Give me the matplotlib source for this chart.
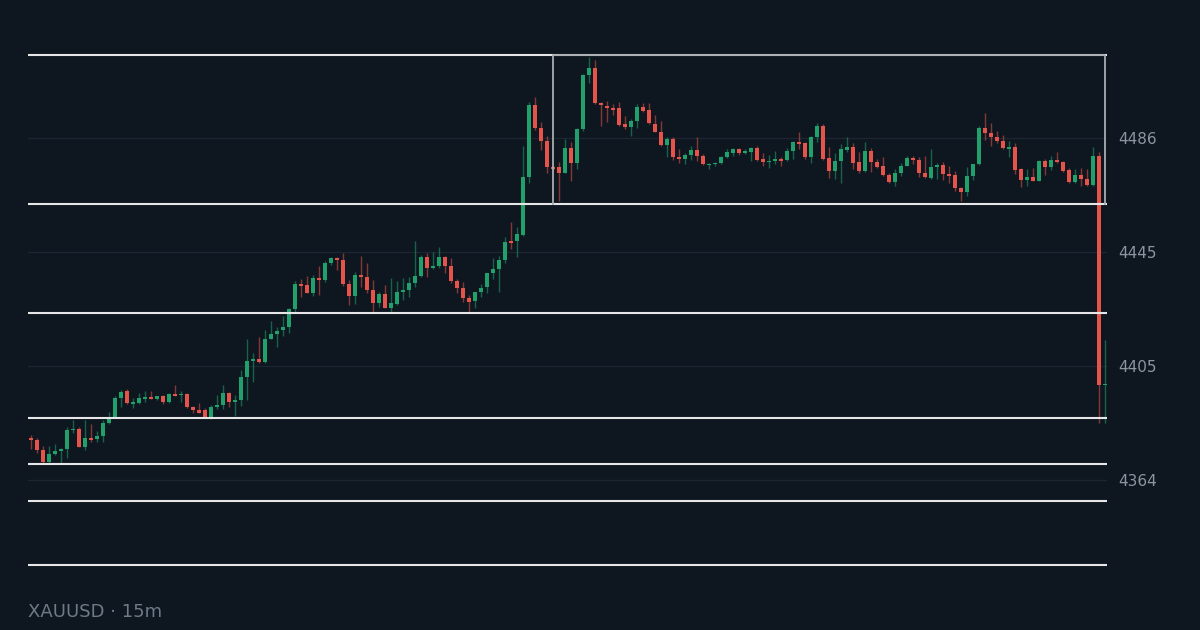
import matplotlib
matplotlib.use("Agg")
import matplotlib.pyplot as plt
import numpy as np

opens = [4379.1, 4378.3, 4374.7, 4370.4, 4373.2, 4374.4, 4375.1, 4381.7, 4382.3, 4375.9,
         4379.1, 4378.6, 4379.8, 4384.2, 4386.2, 4393.1, 4395.6, 4391.2, 4391.5, 4393.0,
         4393.5, 4392.9, 4393.8, 4391.8, 4394.7, 4394.2, 4394.7, 4390.1, 4389.0, 4389.0,
         4386.3, 4390.1, 4390.8, 4395.0, 4391.8, 4392.5, 4400.7, 4406.5, 4407.2, 4406.1,
         4414.4, 4416.2, 4417.4, 4418.7, 4425.0, 4433.8, 4433.5, 4430.7, 4435.9, 4435.3,
         4441.5, 4443.2, 4442.4, 4433.9, 4429.7, 4437.1, 4436.3, 4431.8, 4427.0, 4430.3,
         4425.2, 4426.9, 4431.0, 4431.8, 4434.2, 4436.8, 4443.6, 4439.5, 4440.4, 4443.6,
         4440.4, 4435.0, 4432.5, 4429.0, 4427.7, 4431.2, 4432.7, 4437.7, 4439.3, 4442.5,
         4449.2, 4449.4, 4451.4, 4472.0, 4497.8, 4489.7, 4484.9, 4475.5, 4475.5, 4473.6,
         4482.5, 4477.0, 4489.2, 4508.5, 4510.9, 4498.4, 4497.4, 4496.8, 4496.6, 4491.0,
         4490.0, 4492.1, 4497.2, 4496.0, 4491.0, 4488.2, 4483.5, 4485.6, 4479.3, 4478.5,
         4479.9, 4481.8, 4479.6, 4476.3, 4476.6, 4477.2, 4479.1, 4480.7, 4482.0, 4480.5,
         4480.9, 4482.5, 4478.4, 4477.5, 4477.9, 4478.5, 4478.1, 4481.5, 4484.5, 4484.1,
         4479.3, 4486.2, 4490.3, 4478.8, 4474.3, 4477.8, 4481.7, 4482.9, 4477.3, 4474.2,
         4481.4, 4477.5, 4475.9, 4472.7, 4470.2, 4473.4, 4476.1, 4478.9, 4478.1, 4473.4,
         4471.6, 4475.8, 4476.4, 4473.2, 4472.8, 4468.0, 4466.8, 4472.4, 4476.6, 4489.5,
         4487.9, 4486.5, 4485.0, 4482.1, 4482.7, 4474.8, 4471.0, 4472.0, 4470.7, 4477.9,
         4475.8, 4478.1, 4477.5, 4474.6, 4470.4, 4472.8, 4471.3, 4469.2, 4479.6, 4397.7]
highs = [4379.9, 4379.0, 4376.0, 4376.0, 4376.8, 4375.4, 4383.0, 4385.4, 4383.0, 4385.4,
         4384.0, 4381.6, 4385.4, 4388.2, 4393.9, 4396.1, 4396.4, 4393.3, 4395.1, 4395.8,
         4395.7, 4393.9, 4394.3, 4395.0, 4397.9, 4395.8, 4395.0, 4390.4, 4391.5, 4389.7,
         4390.7, 4394.2, 4397.9, 4395.4, 4394.3, 4403.2, 4414.3, 4409.2, 4415.1, 4417.5,
         4420.7, 4418.5, 4422.5, 4425.4, 4435.0, 4435.6, 4436.8, 4437.1, 4440.4, 4442.1,
         4443.6, 4443.5, 4445.0, 4435.3, 4438.1, 4443.9, 4441.3, 4435.3, 4431.2, 4433.5,
         4436.2, 4435.1, 4435.9, 4436.5, 4449.4, 4444.2, 4444.9, 4445.3, 4447.1, 4443.9,
         4443.1, 4435.6, 4434.6, 4429.9, 4431.2, 4433.8, 4437.9, 4443.1, 4443.9, 4450.6,
         4456.1, 4454.3, 4483.1, 4498.7, 4500.7, 4491.7, 4486.7, 4476.4, 4477.4, 4485.6,
         4484.5, 4489.6, 4508.8, 4515.0, 4513.8, 4498.9, 4499.2, 4498.1, 4498.7, 4494.0,
         4492.7, 4498.1, 4498.4, 4498.4, 4494.2, 4492.2, 4486.2, 4486.2, 4482.1, 4480.8,
         4483.1, 4486.2, 4480.3, 4477.2, 4477.4, 4479.6, 4482.0, 4482.3, 4482.3, 4482.0,
         4482.9, 4483.1, 4480.5, 4479.9, 4481.5, 4479.1, 4482.3, 4484.9, 4488.0, 4484.7,
         4486.7, 4491.2, 4491.0, 4482.9, 4480.5, 4483.9, 4486.2, 4484.1, 4481.1, 4484.7,
         4482.3, 4478.4, 4479.1, 4473.4, 4474.8, 4477.0, 4479.6, 4479.6, 4479.1, 4479.6,
         4482.1, 4477.0, 4477.5, 4476.0, 4474.2, 4468.5, 4475.8, 4476.7, 4490.3, 4495.0,
         4491.5, 4488.5, 4487.1, 4485.0, 4484.1, 4475.3, 4474.8, 4475.2, 4478.1, 4478.4,
         4479.6, 4481.1, 4477.9, 4475.2, 4474.8, 4475.4, 4474.8, 4482.9, 4481.1, 4413.9]
lows = [4375.0, 4373.7, 4370.0, 4370.0, 4372.9, 4369.7, 4371.7, 4380.6, 4375.9, 4374.7,
        4377.6, 4377.6, 4377.6, 4383.8, 4386.1, 4389.9, 4391.0, 4389.8, 4391.0, 4391.9,
        4392.9, 4392.5, 4391.2, 4391.4, 4393.9, 4391.8, 4389.7, 4388.0, 4387.9, 4386.1,
        4385.9, 4389.3, 4389.3, 4390.1, 4386.8, 4390.4, 4392.5, 4399.0, 4405.8, 4405.8,
        4414.2, 4411.5, 4415.4, 4416.5, 4423.8, 4429.2, 4430.7, 4429.7, 4430.1, 4434.7,
        4440.8, 4438.9, 4433.2, 4426.5, 4426.8, 4432.9, 4430.8, 4423.7, 4425.8, 4425.2,
        4423.7, 4426.4, 4428.2, 4429.4, 4432.9, 4436.3, 4436.5, 4439.3, 4439.7, 4437.7,
        4434.4, 4430.8, 4427.6, 4424.0, 4425.2, 4429.4, 4430.6, 4435.6, 4431.2, 4441.3,
        4446.3, 4443.6, 4451.2, 4470.0, 4488.9, 4481.7, 4473.4, 4474.6, 4463.6, 4473.5,
        4470.8, 4474.8, 4488.6, 4505.7, 4498.1, 4490.4, 4491.8, 4494.1, 4490.3, 4489.1,
        4486.7, 4489.5, 4495.3, 4491.0, 4488.1, 4483.3, 4479.1, 4478.1, 4477.2, 4476.7,
        4478.1, 4477.9, 4476.4, 4475.0, 4476.0, 4476.7, 4478.9, 4479.6, 4479.9, 4480.3,
        4477.8, 4477.8, 4476.0, 4475.2, 4476.7, 4476.0, 4477.9, 4478.5, 4482.1, 4478.5,
        4477.2, 4484.7, 4478.1, 4471.8, 4471.4, 4470.0, 4480.9, 4474.9, 4473.6, 4473.9,
        4474.0, 4475.4, 4472.4, 4469.9, 4469.0, 4472.4, 4476.0, 4476.7, 4472.0, 4471.6,
        4471.3, 4471.4, 4471.0, 4469.8, 4467.1, 4463.5, 4465.4, 4471.0, 4476.4, 4485.3,
        4483.1, 4484.1, 4482.1, 4479.1, 4473.1, 4468.6, 4468.9, 4470.5, 4470.5, 4472.8,
        4474.6, 4477.2, 4473.8, 4470.0, 4469.8, 4468.9, 4468.9, 4469.0, 4384.2, 4384.4]
closes = [4378.3, 4374.7, 4370.4, 4373.2, 4374.3, 4375.1, 4381.8, 4382.3, 4375.9, 4378.8,
          4378.1, 4379.8, 4384.4, 4386.0, 4393.1, 4395.4, 4391.3, 4391.9, 4393.1, 4393.5,
          4393.0, 4393.8, 4391.7, 4394.7, 4394.0, 4394.7, 4389.9, 4389.0, 4388.0, 4386.3,
          4390.1, 4390.8, 4395.0, 4391.7, 4392.5, 4400.6, 4406.4, 4407.2, 4406.2, 4414.3,
          4416.1, 4417.2, 4418.6, 4425.0, 4433.8, 4433.2, 4430.7, 4435.9, 4435.3, 4441.5,
          4443.2, 4442.5, 4433.9, 4429.7, 4437.1, 4436.3, 4431.8, 4427.0, 4430.2, 4425.2,
          4427.0, 4431.0, 4431.8, 4434.2, 4436.8, 4443.6, 4439.5, 4440.4, 4443.6, 4440.4,
          4435.0, 4432.5, 4429.0, 4427.6, 4431.2, 4432.5, 4437.7, 4439.3, 4442.5, 4449.0,
          4448.6, 4451.6, 4472.0, 4497.8, 4489.7, 4484.9, 4475.5, 4475.0, 4473.6, 4482.5,
          4477.0, 4489.2, 4508.5, 4510.9, 4498.4, 4497.7, 4496.8, 4496.0, 4490.6, 4490.0,
          4492.1, 4497.2, 4495.7, 4491.2, 4488.2, 4483.5, 4485.6, 4479.1, 4478.6, 4479.9,
          4481.8, 4479.6, 4476.6, 4476.8, 4477.2, 4479.1, 4480.9, 4482.0, 4480.5, 4481.4,
          4482.5, 4478.1, 4477.5, 4477.9, 4478.5, 4477.9, 4481.5, 4484.5, 4483.9, 4479.1,
          4486.2, 4490.3, 4478.5, 4474.3, 4477.8, 4482.0, 4482.9, 4477.2, 4474.3, 4481.4,
          4477.4, 4475.8, 4472.7, 4470.2, 4473.4, 4476.0, 4478.9, 4478.1, 4473.4, 4472.0,
          4475.5, 4476.4, 4473.0, 4472.4, 4468.0, 4466.8, 4472.4, 4476.6, 4489.5, 4487.9,
          4486.5, 4484.9, 4482.3, 4482.7, 4474.6, 4471.0, 4472.0, 4470.7, 4477.9, 4475.8,
          4478.1, 4477.4, 4474.3, 4470.4, 4472.8, 4471.3, 4469.2, 4479.6, 4397.9, 4397.9]

levels = [4515.6, 4462.3, 4423.6, 4386.0, 4369.6, 4356.4, 4333.6]
box_start, box_end = 87, 179
box_low, box_high = 4462.3, 4515.6
tick_vals = [4364.0, 4404.67, 4445.33, 4486.0]
tick_labels = ["4364", "4405", "4445", "4486"]
title = "XAUUSD · 15m"

BG = "#0e1720"
UP = "#22a06b"
DOWN = "#e5534b"

o = np.array(opens)
h = np.array(highs)
l = np.array(lows)
c = np.array(closes)
x = np.arange(len(o))
up = c >= o

fig = plt.figure(figsize=(12, 6.3), dpi=100, facecolor=BG)
ax = fig.add_axes([28 / 1200, 0, (1107 - 28) / 1200, 1])
ax.set_facecolor(BG)

# grid
for t in tick_vals:
    ax.axhline(t, color="#1c2630", lw=1, zorder=0)

# wicks
colors = np.where(up, UP, DOWN)
ax.vlines(x, l, h, colors=colors, lw=1, alpha=0.55, zorder=2)

# bodies
bottom = np.minimum(o, c)
height = np.maximum(np.abs(c - o), 0.4)
ax.bar(x, height, bottom=bottom, width=0.66, color=colors, linewidth=0, zorder=3)

# levels
for lv in levels:
    ax.axhline(lv, color="#e6e6e6", lw=1.5, zorder=4)

# box
ax.plot([box_start, box_start, box_end, box_end],
        [box_low, box_high, box_high, box_low], color="#a9adb2", lw=1.3, zorder=4)

ax.set_xlim(-0.5, 179.35)
ax.set_ylim(4535.23 - 0.35676 * 630, 4535.23)

ax.yaxis.tick_right()
ax.set_yticks(tick_vals)
ax.set_yticklabels(tick_labels)
ax.tick_params(axis="y", length=0, pad=8, labelsize=11, labelcolor="#8b96a0")
ax.set_xticks([])
for s in ax.spines.values():
    s.set_visible(False)

fig.text(28 / 1200, 1 - 612 / 630, title, color="#6e7a88", fontsize=13,
         ha="left", va="center")

plt.savefig("out.png", dpi=100, facecolor=BG)
